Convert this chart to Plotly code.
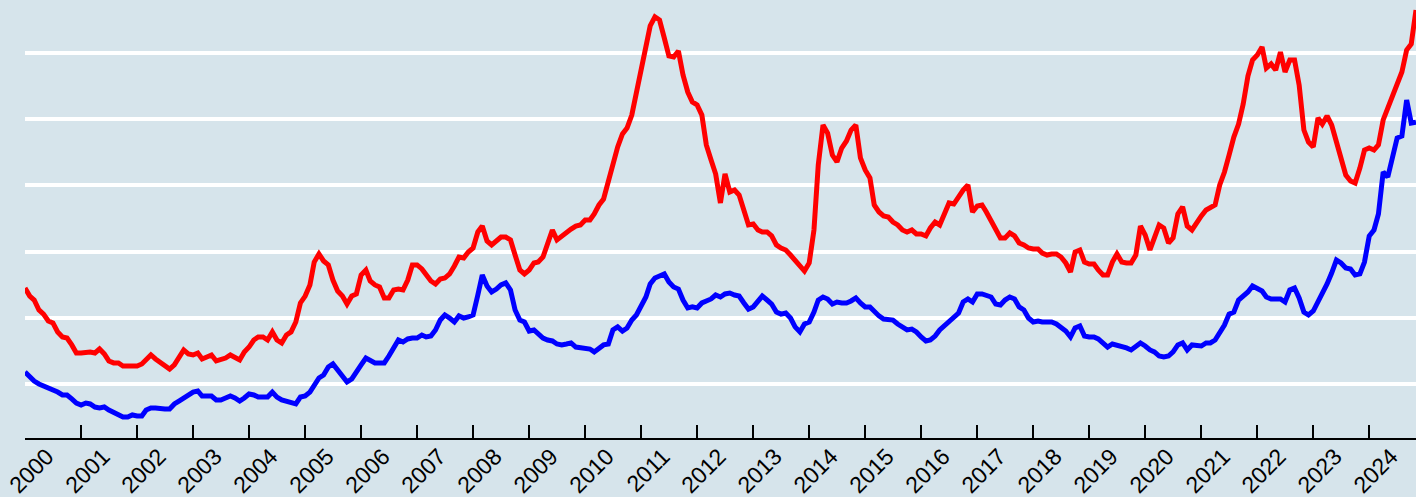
import pandas as pd
import plotly.graph_objects as go

# Monthly prices, Jan 2000 - Nov 2024 (US cents/lb)
dates = pd.date_range("2000-01-01", periods=299, freq="MS")

red_series = [
    122.5, 116.4, 113.4, 105.9, 102.8, 97.6, 96.1, 89.3, 85.5, 84.7, 79.5, 73.4,
    73.4, 74.2, 74.2, 73.4, 76.4, 72.7, 67.4, 65.9, 65.9, 63.6, 63.6, 63.6,
    63.6, 65.1, 68.9, 71.9, 68.9, 66.6, 64.4, 61.3, 64.4, 70.4, 75.7, 72.7,
    71.9, 73.4, 68.9, 70.4, 71.9, 67.4, 68.1, 69.6, 71.9, 69.6, 68.1, 74.2,
    77.9, 83.2, 85.5, 85.5, 83.2, 89.3, 83.2, 81.0, 87.0, 89.3, 96.8, 111.2,
    116.4, 124.8, 142.1, 148.2, 142.9, 139.9, 128.5, 120.2, 116.4, 110.4, 116.4, 118.0,
    132.3, 136.1, 127.8, 124.8, 123.3, 115.0, 115.0, 121.0, 121.7, 121.0, 128.5, 139.9,
    139.9, 136.9, 133.1, 127.8, 125.5, 129.3, 130.0, 133.1, 139.1, 145.9, 145.2, 149.7,
    152.7, 164.8, 169.3, 158.0, 155.0, 158.0, 161.0, 161.0, 158.8, 147.4, 136.1, 133.1,
    136.1, 141.4, 142.1, 145.9, 157.2, 166.3, 158.8, 161.8, 164.0, 167.0, 169.3, 170.1,
    173.8, 173.8, 178.4, 185.2, 189.7, 204.0, 218.4, 229.0, 238.8, 243.3, 253.1, 270.5,
    284.9, 306.0, 320.4, 327.2, 324.9, 311.3, 297.7, 296.9, 301.5, 283.4, 270.5, 263.0,
    260.7, 253.1, 230.5, 219.2, 208.6, 186.7, 208.6, 195.0, 196.5, 192.7, 181.4, 170.1,
    170.8, 166.3, 164.8, 164.8, 161.8, 155.0, 152.7, 151.2, 147.4, 143.6, 139.1, 135.3,
    141.4, 166.3, 215.4, 245.6, 239.5, 222.9, 217.7, 228.2, 233.5, 241.8, 245.6, 220.7,
    211.6, 205.6, 185.2, 179.9, 176.9, 176.1, 172.3, 170.1, 166.3, 164.8, 166.3, 163.3,
    163.3, 161.8, 167.8, 172.3, 170.1, 177.6, 186.7, 185.9, 192.0, 196.5, 200.3, 179.9,
    184.4, 185.2, 179.9, 173.8, 167.8, 160.3, 160.3, 164.0, 161.8, 156.5, 155.0, 152.7,
    152.0, 152.0, 148.9, 147.4, 148.2, 148.2, 145.9, 141.4, 134.6, 149.7, 151.2, 142.1,
    140.6, 140.6, 136.1, 132.3, 132.3, 142.1, 148.2, 142.1, 141.4, 141.4, 147.4, 169.3,
    162.5, 151.2, 160.3, 170.1, 167.8, 156.5, 160.3, 178.4, 183.7, 169.3, 166.3, 172.3,
    176.9, 181.4, 183.7, 185.2, 200.3, 210.1, 222.9, 236.5, 246.3, 261.4, 282.6, 294.7,
    298.5, 304.5, 288.6, 291.7, 287.1, 300.7, 285.6, 294.7, 294.7, 275.8, 241.8, 232.7,
    229.0, 250.9, 246.3, 252.4, 245.6, 232.7, 217.7, 207.8, 203.3, 201.8, 213.1, 226.7,
    228.2, 226.7, 230.5, 249.4, 258.4, 268.2, 278.1, 285.6, 302.2, 306.8, 332.4,
]

blue_series = [
    59.0, 55.2, 52.2, 50.0, 48.5, 47.7, 46.2, 43.9, 41.7, 41.7, 38.7, 35.6,
    34.1, 35.6, 34.9, 32.6, 31.9, 32.6, 30.3, 28.8, 26.6, 25.0, 25.0, 26.6,
    25.8, 25.8, 30.3, 31.9, 31.9, 31.1, 31.1, 31.1, 34.9, 37.1, 39.4, 41.7,
    43.9, 44.7, 40.9, 40.9, 40.9, 37.9, 37.9, 39.4, 40.9, 39.4, 37.1, 39.4,
    42.4, 41.7, 40.1, 40.1, 40.1, 43.9, 40.1, 37.9, 37.1, 35.6, 34.9, 40.1,
    40.9, 43.9, 49.2, 54.5, 56.8, 62.8, 65.1, 60.5, 54.5, 51.5, 53.8, 58.3,
    64.4, 69.6, 67.4, 65.9, 65.9, 65.9, 71.1, 77.9, 83.2, 81.7, 84.0, 84.7,
    84.7, 87.0, 85.5, 86.2, 90.8, 98.3, 102.1, 99.8, 96.8, 101.4, 99.8, 100.6,
    102.1, 117.2, 132.3, 124.0, 119.5, 121.7, 124.8, 126.3, 121.0, 105.9, 98.3, 96.8,
    90.0, 90.8, 87.8, 84.7, 83.2, 82.5, 80.2, 79.5, 80.2, 81.0, 77.9, 77.2,
    77.2, 76.4, 74.2, 77.2, 79.5, 80.2, 90.8, 93.1, 90.0, 92.3, 98.3, 102.1,
    108.2, 115.7, 125.5, 130.0, 131.5, 133.1, 127.0, 123.3, 121.7, 113.4, 107.4, 108.2,
    107.4, 111.2, 112.7, 114.2, 117.2, 115.7, 118.0, 118.7, 117.2, 116.4, 111.2, 106.6,
    108.2, 111.9, 116.4, 113.4, 110.4, 104.3, 102.8, 103.6, 99.8, 93.1, 89.3, 95.3,
    96.8, 104.3, 113.4, 115.7, 114.2, 110.4, 111.9, 111.2, 111.2, 112.7, 115.0, 111.2,
    108.2, 108.2, 104.3, 101.4, 99.1, 98.3, 98.3, 95.3, 93.1, 90.8, 91.5, 89.3,
    85.5, 82.5, 83.2, 86.2, 90.8, 93.8, 97.6, 99.8, 103.6, 111.9, 114.2, 111.9,
    118.0, 118.0, 117.2, 115.7, 110.4, 109.7, 113.4, 115.7, 114.2, 108.2, 105.9, 99.8,
    96.8, 97.6, 96.8, 96.8, 96.8, 95.3, 93.1, 90.0, 85.5, 92.3, 93.8, 86.2,
    85.5, 85.5, 84.0, 81.0, 77.9, 80.2, 79.5, 77.9, 77.2, 75.7, 78.7, 81.0,
    78.7, 75.7, 74.2, 71.1, 70.4, 71.1, 74.2, 79.5, 81.0, 75.7, 79.5, 78.7,
    78.7, 81.0, 81.0, 83.2, 88.5, 94.5, 102.8, 104.3, 113.4, 116.4, 119.5, 124.0,
    121.7, 120.2, 115.7, 114.2, 114.2, 114.2, 111.9, 121.0, 122.5, 115.0, 104.3, 102.1,
    105.1, 111.9, 117.2, 125.5, 133.8, 143.6, 141.4, 137.6, 136.8, 132.3, 133.1, 142.1,
    161.8, 166.3, 178.4, 210.1, 206.3, 222.2, 235.8, 237.3, 264.5, 247.1, 247.8,
]

grid_values = [50, 100, 150, 200, 250, 300]
y_range = [9.2, 340.0]

bg = "#d6e4eb"

fig = go.Figure()
fig.add_trace(go.Scatter(x=dates, y=red_series, mode="lines",
                         line=dict(color="#ff0000", width=5), showlegend=False))
fig.add_trace(go.Scatter(x=dates, y=blue_series, mode="lines",
                         line=dict(color="#0000ff", width=5), showlegend=False))

fig.update_layout(
    width=1416, height=497,
    margin=dict(l=25, r=0, t=0, b=59, autoexpand=False),
    paper_bgcolor=bg, plot_bgcolor=bg,
    font=dict(family="Liberation Sans, Arial, sans-serif", size=23, color="black"),
)
fig.update_xaxes(
    range=[dates[0], dates[-1]],
    tickformat="%Y", dtick="M12", tick0="2000-01-01",
    tickangle=-45, automargin=False,
    showline=True, linecolor="black", linewidth=2,
    ticks="inside", ticklen=13, tickwidth=2, tickcolor="black",
    showgrid=False, zeroline=False,
    ticklabelshift=22, ticklabelstandoff=-6,
)
fig.update_yaxes(
    range=y_range, tickvals=grid_values, showticklabels=False, automargin=False,
    showgrid=True, gridcolor="white", gridwidth=4,
    zeroline=False, showline=False, ticks="",
)

fig.write_html(
    "out.html",
    config={"displayModeBar": False},
    post_script="document.body.style.margin='0';document.body.style.overflow='hidden';",
)
